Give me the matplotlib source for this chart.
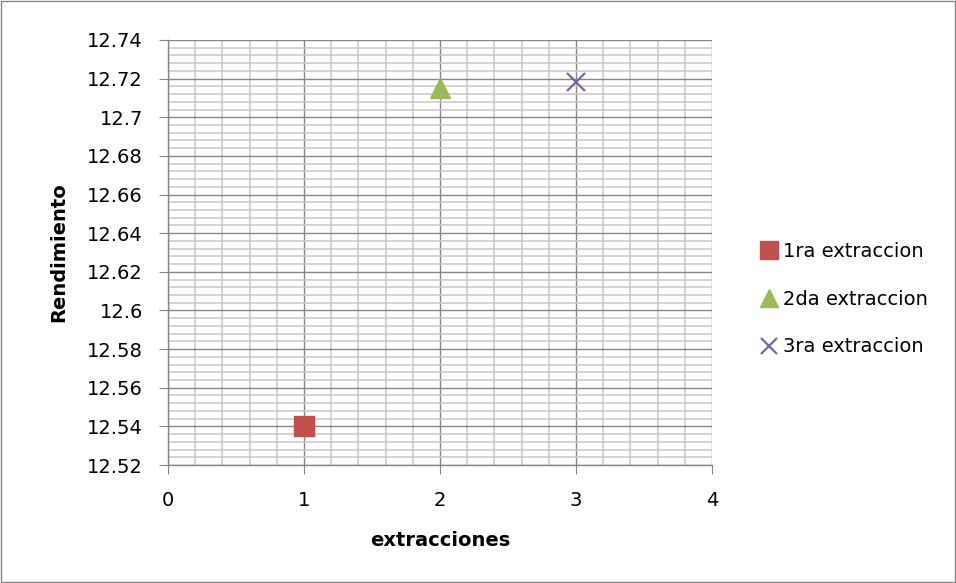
import matplotlib
matplotlib.use("Agg")
import matplotlib.pyplot as plt
from matplotlib.ticker import MultipleLocator, FuncFormatter

plt.rcParams['font.family'] = ['DejaVu Sans']

series_names = ["1ra extraccion", "2da extraccion", "3ra extraccion"]
x_values = [1, 2, 3]
y_values = [12.54, 12.715, 12.718]
colors = ["#c0504d", "#9bbb59", "#8064a2"]
markers = ["s", "^", "x"]
marker_sizes = [14.4, 15, 13.5]

fig = plt.figure(figsize=(9.56, 5.83), dpi=100)
ax = fig.add_axes([0.1757, 0.2024, 0.5691, 0.729])

handles = []
for name, xv, yv, c, m, ms in zip(series_names, x_values, y_values, colors, markers, marker_sizes):
    if m == "x":
        h, = ax.plot([xv], [yv], linestyle="none", marker=m, markersize=ms, mew=1.6,
                     color=c, label=name, zorder=5, clip_on=False)
    else:
        h, = ax.plot([xv], [yv], linestyle="none", marker=m, markersize=ms,
                     color=c, label=name, zorder=5, clip_on=False)
    handles.append(h)

ax.set_xlim(0, 4)
ax.set_ylim(12.52, 12.74)
ax.xaxis.set_major_locator(MultipleLocator(1))
ax.xaxis.set_minor_locator(MultipleLocator(0.2))
ax.yaxis.set_major_locator(MultipleLocator(0.02))
ax.yaxis.set_minor_locator(MultipleLocator(0.004))

def yfmt(v, pos):
    s = f"{v:.2f}"
    if s.endswith("0"):
        s = s[:-1]
    return s
ax.yaxis.set_major_formatter(FuncFormatter(yfmt))

ax.grid(which="minor", color="#c8c8c8", linewidth=1.1)
ax.grid(which="major", color="#878787", linewidth=1.0)
ax.set_axisbelow(True)

for side in ["top", "right"]:
    ax.spines[side].set_visible(False)
for side in ["left", "bottom"]:
    ax.spines[side].set_color("#868686")
    ax.spines[side].set_linewidth(1.0)

ax.tick_params(which="major", direction="out", length=6.5, color="#868686",
               labelsize=14, labelcolor="black")
ax.tick_params(axis="y", which="major", pad=11.5)
ax.tick_params(axis="x", which="major", pad=12)
ax.tick_params(which="minor", length=0)

ax.set_xlabel("extracciones", fontsize=14, fontweight="bold", labelpad=15)
ax.set_ylabel("Rendimiento", fontsize=14, fontweight="bold", labelpad=13.5)

fig.legend(handles=handles, labels=series_names, loc="center left",
           bbox_to_anchor=(0.794, 0.487), bbox_transform=fig.transFigure,
           frameon=False, fontsize=14, handletextpad=0.25, labelspacing=1.48,
           markerscale=0.87, handlelength=1.0, borderpad=0, borderaxespad=0)

fig.patches.append(plt.Rectangle((0.001, 0.001), 0.998, 0.998, transform=fig.transFigure,
                                 fill=False, edgecolor="#868686", linewidth=1.0))

fig.savefig("out.png", dpi=100)
